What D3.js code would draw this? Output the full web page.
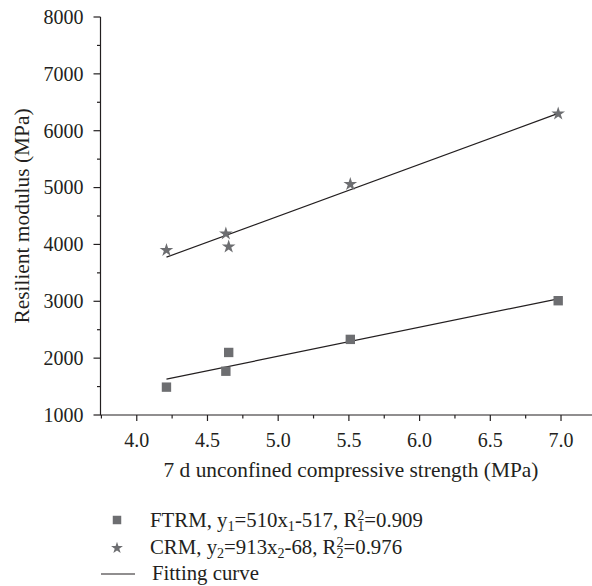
<!DOCTYPE html>
<html><head><meta charset="utf-8">
<script src="https://cdn.jsdelivr.net/npm/d3@7"></script>
<style>body{margin:0;background:#fff;}</style></head>
<body><svg id="c" width="592" height="586"></svg>
<script>
const strengthX = [4.21, 4.63, 4.65, 5.51, 6.98];
const ftrmY = [1490, 1770, 2100, 2330, 3010];
const crmY  = [3900, 4190, 3960, 5060, 6300];
const fitX = [4.21, 6.98];
const fitFtrmY = [1630, 3043];
const fitCrmY = [3776, 6305];
const xTicks = [4.0, 4.5, 5.0, 5.5, 6.0, 6.5, 7.0];
const yTicks = [1000, 2000, 3000, 4000, 5000, 6000, 7000, 8000];

const svg = d3.select("#c");
const FONT = '"Liberation Serif"';
const x = d3.scaleLinear().domain([3.74, 7.2]).range([100, 589.3]);
const y = d3.scaleLinear().domain([1000, 8000]).range([415, 17]);
const ink = "#231f20", gray = "#6d6e71";
const fsTick = 20, fsTitle = 21.4, fsLeg = 20.8;
function T(sel){ return sel.style("font-family", FONT).attr("fill", ink); }

// x axis
const xa = svg.append("g").attr("transform","translate(0,415)");
xa.append("line").attr("x1",100).attr("x2",592).attr("stroke",ink).attr("stroke-width",1.2);
const xMinor = d3.range(3.75, 7.2, 0.25);
xa.selectAll(".xm").data(xMinor).join("line").attr("x1",d=>x(d)).attr("x2",d=>x(d))
  .attr("y1",0).attr("y2",d=>Math.abs(d*2-Math.round(d*2))<1e-6?6:3.5).attr("stroke",ink).attr("stroke-width",1.2);
T(xa.selectAll(".xl").data(xTicks).join("text").attr("x",d=>x(d)).attr("y",31.5)
  .attr("text-anchor","middle").attr("font-size",fsTick).text(d=>d.toFixed(1)));
T(svg.append("text").attr("x",351).attr("y",477).attr("text-anchor","middle").attr("font-size",fsTitle)
  .text("7 d unconfined compressive strength (MPa)"));

// y axis
const ya = svg.append("g").attr("transform","translate(100.5,0)");
ya.append("line").attr("y1",17).attr("y2",415).attr("stroke",ink).attr("stroke-width",1.2);
const yMinor = d3.range(1000, 8001, 500);
ya.selectAll(".ym").data(yMinor).join("line").attr("y1",d=>y(d)).attr("y2",d=>y(d))
  .attr("x1",0).attr("x2",d=>d%1000===0?-7:-3.5).attr("stroke",ink).attr("stroke-width",1.2);
T(ya.selectAll(".yl").data(yTicks).join("text").attr("x",-17).attr("y",d=>y(d)).attr("dy","0.34em")
  .attr("text-anchor","end").attr("font-size",fsTick).text(d=>d));
T(svg.append("text").attr("transform","translate(29,216) rotate(-90)").attr("text-anchor","middle")
  .attr("font-size",fsTitle).text("Resilient modulus (MPa)"));

// fitting lines
const line = d3.line().x(d=>x(d[0])).y(d=>y(d[1]));
[fitFtrmY, fitCrmY].forEach(ys=>{
  svg.append("path").attr("d", line(fitX.map((v,i)=>[v, ys[i]])))
    .attr("fill","none").attr("stroke",ink).attr("stroke-width",1.2);
});

// markers
const sq = d3.symbol().type(d3.symbolSquare).size(88);
const st = d3.symbol().type(d3.symbolStar).size(58);
svg.selectAll(".sq").data(strengthX.map((v,i)=>[v,ftrmY[i]])).join("path")
  .attr("d",sq).attr("transform",d=>`translate(${x(d[0])},${y(d[1])})`).attr("fill",gray);
svg.selectAll(".st").data(strengthX.map((v,i)=>[v,crmY[i]])).join("path")
  .attr("d",st).attr("transform",d=>`translate(${x(d[0])},${y(d[1])})`).attr("fill",gray);

// legend
const lg = svg.append("g");
lg.append("path").attr("d",d3.symbol().type(d3.symbolSquare).size(72)).attr("transform","translate(117,520)").attr("fill",gray);
lg.append("path").attr("d",d3.symbol().type(d3.symbolStar).size(44)).attr("transform","translate(117,548)").attr("fill",gray);
lg.append("line").attr("x1",101).attr("x2",135).attr("y1",574).attr("y2",574).attr("stroke",ink).attr("stroke-width",1.2);

const ss = fsLeg*0.68;
// parts: strings (baseline), {sub}, {sup,sub}
function eqText(yPos, parts){
  const t = T(lg.append("text").attr("x",150).attr("y",yPos).attr("font-size",fsLeg));
  let offset = 0; // current baseline shift
  parts.forEach(p=>{
    if (typeof p === "string") {
      t.append("tspan").attr("dy", -offset).text(p); offset = 0;
    } else if (p.sup){
      t.append("tspan").attr("font-size",ss).attr("dy",-7.5 - offset).text(p.sup);
      t.append("tspan").attr("font-size",ss).attr("dx",-ss*0.5).attr("dy",11.5).text(p.sub);
      offset = 4;
    } else {
      t.append("tspan").attr("font-size",ss).attr("dy",4 - offset).text(p.sub);
      offset = 4;
    }
  });
  return t;
}
eqText(527, ["FTRM, y", {sub:"1"}, "=510x", {sub:"1"}, "-517, R", {sup:"2",sub:"1"}, "=0.909"]);
eqText(554, ["CRM, y", {sub:"2"}, "=913x", {sub:"2"}, "-68, R", {sup:"2",sub:"2"}, "=0.976"]);
T(lg.append("text").attr("x",152).attr("y",580).attr("font-size",fsLeg).text("Fitting curve"));
</script></body></html>
